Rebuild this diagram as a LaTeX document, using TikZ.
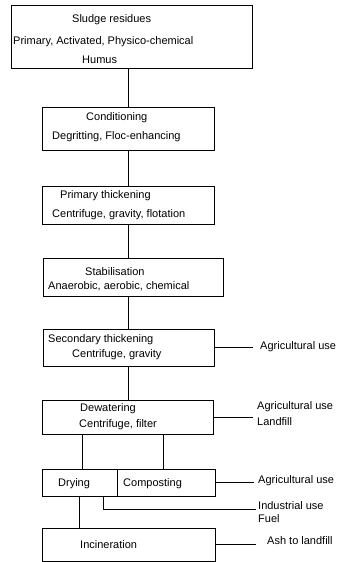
\documentclass[tikz,border=0pt]{standalone}
\usepackage{fontspec}
\setmainfont{Liberation Sans}
\begin{document}
\begin{tikzpicture}[x=1pt,y=-1pt,
  box/.style={draw=black,line width=0.8pt,inner sep=0pt,rectangle},
  lbl/.style={anchor=mid west,inner sep=0pt,font=\fontsize{11}{13}\selectfont},
  conn/.style={draw=black,line width=0.8pt}]
\useasboundingbox (0,0) rectangle (339,562);
% boxes
\node[box,minimum width=241pt,minimum height=63pt] (b1) at (131.5,36.5) {};
\node[box,minimum width=172pt,minimum height=43pt] (b2) at (128,128.5) {};
\node[box,minimum width=172pt,minimum height=38pt] (b3) at (128,205) {};
\node[box,minimum width=180pt,minimum height=38pt] (b4) at (133,277) {};
\node[box,minimum width=171pt,minimum height=37pt] (b5) at (128.5,347.5) {};
\node[box,minimum width=171pt,minimum height=34pt] (b6) at (127.5,417) {};
\node[box,minimum width=75pt,minimum height=27pt] (b7a) at (79.5,482.5) {};
\node[box,minimum width=98pt,minimum height=27pt] (b7b) at (166,482.5) {};
\node[box,minimum width=173pt,minimum height=33pt] (b8) at (128.5,544.5) {};
% box texts
\node[lbl] (t1a) at (72,20) {Sludge residues};
\node[lbl] (t1b) at (13,42) {Primary, Activated, Physico-chemical};
\node[lbl] (t1c) at (82,61) {Humus};
\node[lbl] (t2a) at (86,118) {Conditioning};
\node[lbl] (t2b) at (52,137) {Degritting, Floc-enhancing};
\node[lbl] (t3a) at (60,196) {Primary thickening};
\node[lbl] (t3b) at (52,215) {Centrifuge, gravity, flotation};
\node[lbl] (t4a) at (85,273) {Stabilisation};
\node[lbl] (t4b) at (48,287) {Anaerobic, aerobic, chemical};
\node[lbl] (t5a) at (48,340) {Secondary thickening};
\node[lbl] (t5b) at (72,355) {Centrifuge, gravity};
\node[lbl] (t6a) at (80,409) {Dewatering};
\node[lbl] (t6b) at (79,425) {Centrifuge, filter};
\node[lbl] (t7a) at (58,484) {Drying};
\node[lbl] (t7b) at (123,484) {Composting};
\node[lbl] (t8) at (80,546) {Incineration};
% outputs
\node[lbl] (o5) at (260,347) {Agricultural use};
\node[lbl] (o6a) at (257,407) {Agricultural use};
\node[lbl] (o6b) at (257,423) {Landfill};
\node[lbl] (o7) at (258,481) {Agricultural use};
\node[lbl] (o7i) at (258,507) {Industrial use};
\node[lbl] (o7f) at (258,520) {Fuel};
\node[lbl] (o8) at (267,542) {Ash to landfill};
% vertical connectors
\draw[conn] (128,0 |- b1.south) -- (128,0 |- b2.north);
\draw[conn] (128,0 |- b2.south) -- (128,0 |- b3.north);
\draw[conn] (128,0 |- b3.south) -- (128,0 |- b4.north);
\draw[conn] (128,0 |- b4.south) -- (128,0 |- b5.north);
\draw[conn] (128,0 |- b5.south) -- (128,0 |- b6.north);
\draw[conn] (82,0 |- b6.south) -- (82,0 |- b7a.north);
\draw[conn] (163,0 |- b6.south) -- (163,0 |- b7b.north);
\draw[conn] (79,0 |- b7a.south) -- (79,0 |- b8.north);
% right connectors
\draw[conn] (b5.east) -- (253,0 |- b5.east);
\draw[conn] (b6.east) -- (253,0 |- b6.east);
\draw[conn] (b7b.east) -- (254,0 |- b7b.east);
\draw[conn] (103,0 |- b7a.south) -- (103,509) -- (256,509);
\draw[conn] (b8.east) -- (256,0 |- b8.east);
\end{tikzpicture}
\end{document}
